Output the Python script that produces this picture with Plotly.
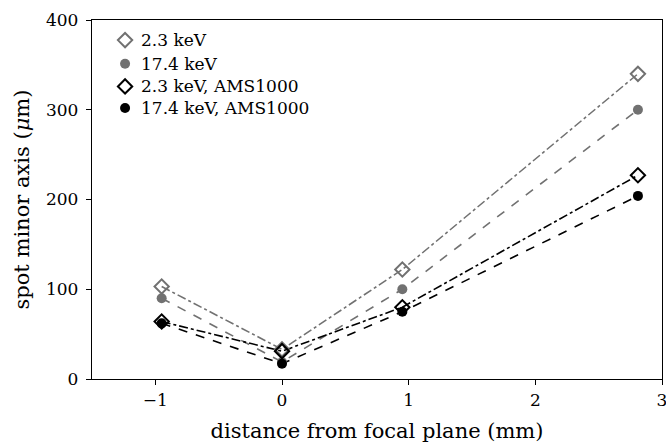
import plotly.graph_objects as go

x_pos = [-0.95, 0.0, 0.95, 2.81]
names = ["2.3 keV", "17.4 keV", "2.3 keV, AMS1000", "17.4 keV, AMS1000"]
y_23 = [103, 33, 122, 340]
y_174 = [90, 19, 100, 300]
y_23_ams = [64, 31, 80, 227]
y_174_ams = [62, 17, 75, 204]

gray = "#717171"
series = [
    (names[0], y_23, gray, "diamond-open", "dashdot", 11),
    (names[1], y_174, gray, "circle", "dash", 10),
    (names[2], y_23_ams, "black", "diamond-open", "dashdot", 11),
    (names[3], y_174_ams, "black", "circle", "dash", 10),
]

fig = go.Figure()
for name, ys, col, sym, dash, ms in series:
    fig.add_trace(go.Scatter(x=x_pos, y=ys, mode="lines", line=dict(color=col, dash=dash, width=1.6),
                             showlegend=False, hoverinfo="skip"))
for name, ys, col, sym, dash, ms in series:
    fig.add_trace(go.Scatter(x=x_pos, y=ys, mode="markers", name=name, showlegend=False,
                             marker=dict(color=col, symbol=sym, size=ms,
                                         line=dict(color=col, width=2 if "open" in sym else 0))))

# manual legend (compact rows like the reference)
leg_x_marker = 0.058
leg_x_text = 0.083
leg_rows = [0.944, 0.878, 0.815, 0.755]
for (name, ys, col, sym, dash, ms), ly in zip(series, leg_rows):
    fig.add_trace(go.Scatter(x=[leg_x_marker], y=[ly], xaxis="x2", yaxis="y2", mode="markers",
                             showlegend=False, hoverinfo="skip",
                             marker=dict(color=col, symbol=sym, size=ms,
                                         line=dict(color=col, width=2 if "open" in sym else 0))))
    fig.add_annotation(x=leg_x_text, y=ly, xref="paper", yref="paper", text=name, showarrow=False,
                       xanchor="left", yanchor="middle", font=dict(size=17))

font = "DejaVu Serif, serif"
fig.update_layout(
    width=666, height=446,
    margin=dict(l=92, r=4, t=20, b=67, autoexpand=False),
    paper_bgcolor="white", plot_bgcolor="white",
    font=dict(family=font, size=17, color="black"),
    showlegend=False,
    xaxis2=dict(overlaying="x", range=[0, 1], visible=False),
    yaxis2=dict(overlaying="y", range=[0, 1], visible=False),
    xaxis=dict(range=[-1.5, 3], tickvals=[-1, 0, 1, 2, 3], ticktext=["\u22121", "0", "1", "2", "3"],
               showgrid=False, zeroline=False, showline=True, linecolor="black", linewidth=1.3,
               mirror=True, ticks="outside", ticklen=5, tickcolor="black", tickfont=dict(size=17),
               ticklabeloverflow="allow", automargin=False,
               title=dict(text="distance from focal plane (mm)", font=dict(size=21), standoff=14)),
    yaxis=dict(range=[0, 400], tickvals=[0, 100, 200, 300, 400],
               showgrid=False, zeroline=False, showline=True, linecolor="black", linewidth=1.3,
               mirror=True, ticks="outside", ticklen=5, tickcolor="black", tickfont=dict(size=17),
               ticklabelstandoff=4, ticklabeloverflow="allow", automargin=False,
               title=dict(text="spot minor axis (<i>\u03bc</i>m)", font=dict(size=21), standoff=10)),
)
fig.write_html("out.html", config={"displayModeBar": False},
               post_script="document.body.style.margin='0';document.body.style.padding='0';")
